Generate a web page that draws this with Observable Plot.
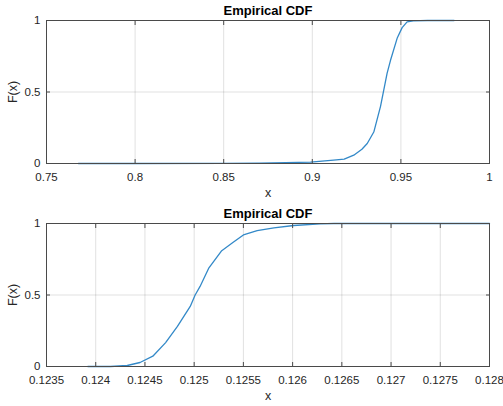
<!DOCTYPE html>
<html>
<head>
<meta charset="utf-8">
<script src="https://cdn.jsdelivr.net/npm/d3@7"></script>
<script src="https://cdn.jsdelivr.net/npm/@observablehq/plot@0.6"></script>
<style>
  html, body { margin: 0; padding: 0; background: white; }
  #chart svg { display: block; }
</style>
</head>
<body>
<div id="chart"></div>
<script>
// Top panel: empirical CDF
const x1 = [0.768, 0.80, 0.85, 0.87, 0.885, 0.899, 0.912, 0.918, 0.9234, 0.928, 0.931, 0.9347, 0.9385, 0.9422, 0.9441, 0.948, 0.9507, 0.9535, 0.957, 0.965, 0.98];
const F1 = [0, 0, 0.001, 0.003, 0.006, 0.01, 0.023, 0.03, 0.058, 0.10, 0.14, 0.22, 0.40, 0.63, 0.72, 0.88, 0.95, 0.99, 0.998, 1, 1];
const xTicks1 = [0.75, 0.8, 0.85, 0.9, 0.95, 1];

// Bottom panel: empirical CDF
const x2 = [0.12392, 0.12415, 0.12432, 0.12445, 0.12458, 0.12471, 0.12483, 0.12496, 0.12501, 0.12506, 0.12515, 0.12528, 0.1254, 0.1255, 0.12564, 0.12581, 0.12601, 0.12628, 0.12642, 0.128];
const F2 = [0, 0, 0.007, 0.028, 0.072, 0.167, 0.28, 0.42, 0.5, 0.56, 0.69, 0.81, 0.87, 0.92, 0.95, 0.97, 0.986, 0.998, 1, 1];
const xTicks2 = [0.1235, 0.124, 0.1245, 0.125, 0.1255, 0.126, 0.1265, 0.127, 0.1275, 0.128];

const yTicks = [0, 0.5, 1];
const title = "Empirical CDF";
const xLabel = "x";
const yLabel = "F(x)";

const fmt = d => String(+d.toFixed(6));

function panel(xs, Fs, xTicks) {
  const data = xs.map((x, i) => ({x, F: Fs[i]}));
  const domain = [xTicks[0], xTicks[xTicks.length - 1]];
  return Plot.plot({
    width: 503,
    height: 203,
    marginLeft: 46,
    marginRight: 14,
    marginTop: 20,
    marginBottom: 40,
    style: {fontFamily: "'Liberation Sans', Arial, sans-serif", fontSize: "11.5px", color: "#262626", background: "white"},
    x: {domain, ticks: xTicks},
    y: {domain: [0, 1], ticks: yTicks},
    marks: [
      Plot.gridX(xTicks, {stroke: "#000", strokeOpacity: 0.12}),
      Plot.gridY(yTicks, {stroke: "#000", strokeOpacity: 0.12}),
      Plot.line(data, {x: "x", y: "F", stroke: "#3389c8", strokeWidth: 1.3}),
      Plot.frame({stroke: "#4a4a4a"}),
      Plot.axisX(xTicks, {anchor: "bottom", tickSize: 0, tickPadding: 9, tickFormat: fmt, label: null}),
      Plot.axisX(xTicks, {anchor: "bottom", tickSize: -4, tickFormat: () => "", label: null, stroke: "#4a4a4a"}),
      Plot.axisX(xTicks, {anchor: "top", tickSize: -4, tickFormat: () => "", label: null, stroke: "#4a4a4a"}),
      Plot.axisY(yTicks, {anchor: "left", tickSize: 0, tickPadding: 6, tickFormat: fmt, label: null}),
      Plot.axisY(yTicks, {anchor: "left", tickSize: -4, tickFormat: () => "", label: null, stroke: "#4a4a4a"}),
      Plot.axisY(yTicks, {anchor: "right", tickSize: -4, tickFormat: () => "", label: null, stroke: "#4a4a4a"}),
      Plot.text([title], {frameAnchor: "top", lineAnchor: "middle", dy: -10, fontWeight: "bold", fontSize: 13, fill: "#000"}),
      Plot.text([xLabel], {frameAnchor: "bottom", lineAnchor: "middle", dy: 29, fontSize: 12.5, fill: "#262626"}),
      Plot.text([yLabel], {frameAnchor: "left", textAnchor: "middle", lineAnchor: "middle", dx: -34, rotate: -90, fontSize: 12.5, fill: "#262626"})
    ]
  });
}

const root = document.getElementById("chart");
root.appendChild(panel(x1, F1, xTicks1));
root.appendChild(panel(x2, F2, xTicks2));
</script>
</body>
</html>
